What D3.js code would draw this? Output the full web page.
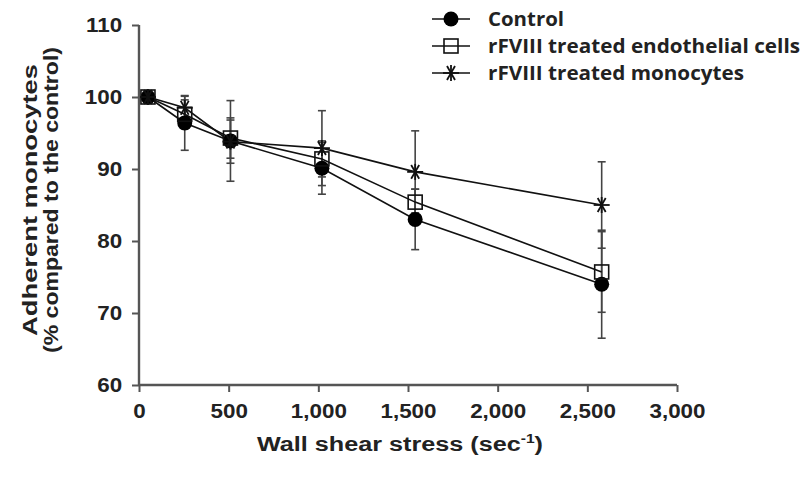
<!DOCTYPE html>
<html><head><meta charset="utf-8">
<script src="https://cdn.jsdelivr.net/npm/d3@7"></script>
<style>body{margin:0;background:#fff}svg{display:block}</style>
</head><body>
<svg id="c" width="805" height="480"></svg>
<script>
const shear = [50, 255, 510, 1020, 1540, 2580];
const seriesNames = ["Control", "rFVIII treated endothelial cells", "rFVIII treated monocytes"];
const controlMean = [100, 96.4, 93.9, 90.1, 83.0, 74.0];
const controlErr  = [0, 3.8, 5.6, 3.6, 4.2, 7.5];
const endoMean = [100, 97.6, 94.3, 91.4, 85.4, 75.7];
const endoErr  = [0, 2.0, 2.8, 2.5, 1.8, 5.6];
const monoMean = [100, 98.5, 93.8, 92.9, 89.6, 85.0];
const monoErr  = [0, 1.6, 3.0, 5.2, 5.7, 6.0];
const xTicks = [0, 500, 1000, 1500, 2000, 2500, 3000];
const yTicks = [60, 70, 80, 90, 100, 110];

const series = [
  {name: seriesNames[0], mean: controlMean, err: controlErr, marker: "circle"},
  {name: seriesNames[1], mean: endoMean, err: endoErr, marker: "square"},
  {name: seriesNames[2], mean: monoMean, err: monoErr, marker: "star"}
];

const svg = d3.select("#c");
const x = d3.scaleLinear().domain([0, 3000]).range([139, 677]);
const y = d3.scaleLinear().domain([60, 110]).range([385, 25]);
const fontAx = "'Liberation Sans', Arial, sans-serif";

// axes
const xAxis = svg.append("g").attr("transform", `translate(0,${y(60)})`)
  .call(d3.axisBottom(x).tickValues(xTicks).tickSize(7).tickPadding(12)
    .tickFormat(d3.format(",")));
const yAxis = svg.append("g").attr("transform", `translate(${x(0)},0)`)
  .call(d3.axisLeft(y).tickValues(yTicks).tickSize(7).tickPadding(8));
[xAxis, yAxis].forEach(a => {
  a.select(".domain").attr("stroke", "#555").attr("stroke-width", 2.4);
  a.selectAll(".tick line").attr("stroke", "#555").attr("stroke-width", 2);
  a.selectAll(".tick text").attr("fill", "#222").style("font-family", fontAx)
    .style("font-size", "20px").style("font-weight", "bold")
    .attr("transform", "scale(1.12,1)");
});
xAxis.select(".domain").attr("d", `M${x(0)},0H${x(3000)}`);
yAxis.select(".domain").attr("d", `M0,${y(110)}V${y(60)}`);

// axis titles
const xt = svg.append("text").attr("transform", "translate(400,451) scale(1.2,1)").attr("text-anchor", "middle")
  .style("font-family", fontAx).style("font-size", "21px").style("font-weight", "bold").attr("fill", "#222");
xt.append("tspan").text("Wall shear stress (sec");
xt.append("tspan").text("-1").attr("dy", -8).style("font-size", "13px");
xt.append("tspan").text(")").attr("dy", 8);

const yt = svg.append("text").attr("transform", "translate(0,200) rotate(-90)").attr("text-anchor", "middle")
  .style("font-family", fontAx).style("font-size", "20px").style("font-weight", "bold").attr("fill", "#222");
yt.append("tspan").attr("x", 0).attr("y", 37).attr("textLength", 272).attr("lengthAdjust", "spacingAndGlyphs")
  .text("Adherent monocytes");
yt.append("tspan").attr("x", 0).attr("y", 58).attr("textLength", 306).attr("lengthAdjust", "spacingAndGlyphs")
  .text("(% compared to the control)");

// marker drawer
function drawMarker(g, type, cx, cy) {
  if (type === "circle") {
    g.append("circle").attr("cx", cx).attr("cy", cy).attr("r", 7.5).attr("fill", "#000");
  } else if (type === "square") {
    g.append("rect").attr("x", cx - 7).attr("y", cy - 7).attr("width", 14).attr("height", 14)
      .attr("fill", "none").attr("stroke", "#111").attr("stroke-width", 1.6);
  } else {
    const r = 8;
    [0, 60, 120].forEach(a => {
      const rad = a * Math.PI / 180;
      g.append("line").attr("x1", cx - r * Math.cos(rad)).attr("y1", cy - r * Math.sin(rad))
        .attr("x2", cx + r * Math.cos(rad)).attr("y2", cy + r * Math.sin(rad))
        .attr("stroke", "#111").attr("stroke-width", 1.8);
    });
    g.append("line").attr("x1", cx).attr("y1", cy - r).attr("x2", cx).attr("y2", cy + r)
      .attr("stroke", "#111").attr("stroke-width", 1.8);
  }
}

// error bars
const eb = svg.append("g");
series.forEach(s => {
  shear.forEach((sx, i) => {
    if (!s.err[i]) return;
    const cx = x(sx), y1 = y(s.mean[i] + s.err[i]), y2 = y(s.mean[i] - s.err[i]);
    eb.append("line").attr("x1", cx).attr("x2", cx).attr("y1", y1).attr("y2", y2)
      .attr("stroke", "#444").attr("stroke-width", 1.6);
    [y1, y2].forEach(yy => eb.append("line").attr("x1", cx - 4).attr("x2", cx + 4)
      .attr("y1", yy).attr("y2", yy).attr("stroke", "#444").attr("stroke-width", 1.6));
  });
});

// lines
const line = d3.line().x((d, i) => x(shear[i])).y(d => y(d));
series.forEach(s => {
  svg.append("path").attr("d", line(s.mean)).attr("fill", "none")
    .attr("stroke", "#111").attr("stroke-width", 1.6);
});

// markers
series.forEach(s => {
  const g = svg.append("g");
  shear.forEach((sx, i) => drawMarker(g, s.marker, x(sx), y(s.mean[i])));
});

// legend
const lg = svg.append("g");
const legendLen = [76, 312, 256];
series.forEach((s, i) => {
  const ly = 19 + i * 27;
  lg.append("line").attr("x1", 432).attr("x2", 470).attr("y1", ly).attr("y2", ly)
    .attr("stroke", "#111").attr("stroke-width", 1.6);
  drawMarker(lg, s.marker, 451, ly);
  lg.append("text").attr("x", 488).attr("y", ly + 6.5).text(s.name)
    .attr("textLength", legendLen[i]).attr("lengthAdjust", "spacingAndGlyphs")
    .style("font-family", "'Open Sans', sans-serif").style("font-size", "20px")
    .style("font-weight", "bold").attr("fill", "#222");
});
</script>
</body></html>
